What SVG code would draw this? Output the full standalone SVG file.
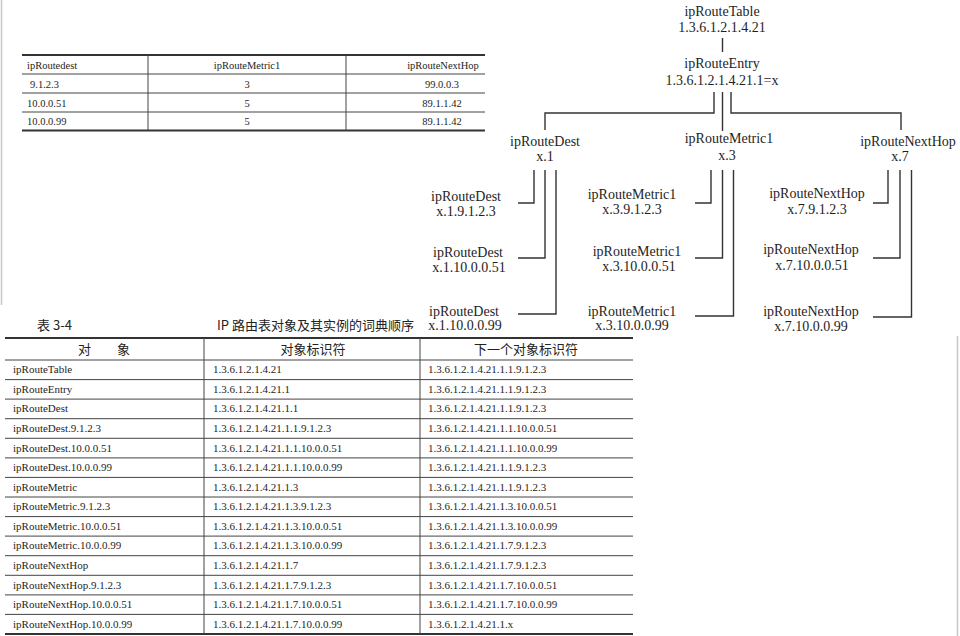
<svg xmlns="http://www.w3.org/2000/svg" width="960" height="636" viewBox="0 0 960 636">
<style>
.t{font-family:"Liberation Serif","Times New Roman",serif;font-size:14px;fill:#1e1e1e;text-anchor:middle}
.s{font-family:"Liberation Serif","Times New Roman",serif;font-size:10.5px;fill:#1e1e1e}
.b{font-family:"Liberation Serif","Times New Roman",serif;font-size:11px;fill:#1e1e1e}
.c{font-family:"Noto Sans CJK SC","Noto Sans",sans-serif;font-size:13px;fill:#222}
.m{text-anchor:middle}
.ln{stroke:#333;stroke-width:1.4;fill:none}
.r{stroke:#444;stroke-width:1;fill:none}
.r2{stroke:#333;stroke-width:1.8;fill:none}
.edge{stroke:#c8c8c8;stroke-width:1.5;fill:none}
</style>
<rect width="960" height="636" fill="#fff"/>
<path class="edge" d="M1.5 0V305M957.5 336V636"/>

<g id="route-table-sample">
<path class="r2" d="M22 55H485M22 130.5H485"/>
<path class="r" d="M22 74H485M22 93H485M22 112H485M148 55V130.5M346 55V130.5"/>
<text class="s" x="27" y="69">ipRoutedest</text>
<text class="s m" x="247" y="69">ipRouteMetric1</text>
<text class="s m" x="443" y="69">ipRouteNextHop</text>
<text class="s" x="30" y="87.5">9.1.2.3</text>
<text class="s m" x="247" y="87.5">3</text>
<text class="s m" x="442" y="87.5">99.0.0.3</text>
<text class="s" x="27" y="106.5">10.0.0.51</text>
<text class="s m" x="247" y="106.5">5</text>
<text class="s m" x="442" y="106.5">89.1.1.42</text>
<text class="s" x="27" y="125">10.0.0.99</text>
<text class="s m" x="247" y="125">5</text>
<text class="s m" x="442" y="125">89.1.1.42</text>
</g>

<g id="connectors">
<path class="ln" d="M722.5 38V52"/>
<path class="ln" d="M714 92V113H545V130"/>
<path class="ln" d="M722.5 92V131"/>
<path class="ln" d="M731 92V113H901V130"/>
<path class="ln" d="M534 170V203H518M545 170V258H518M556 170V314H518"/>
<path class="ln" d="M711 170V203H695M722.5 170V258H695M733.5 170V316H695"/>
<path class="ln" d="M888 170V203H873M900 170V258H873M911.5 170V317H873"/>
</g>

<g id="node-ipRouteTable"><text class="t" x="722" y="16">ipRouteTable</text><text class="t" x="722" y="32">1.3.6.1.2.1.4.21</text></g>
<g id="node-ipRouteEntry"><text class="t" x="722" y="68">ipRouteEntry</text><text class="t" x="722" y="85">1.3.6.1.2.1.4.21.1=x</text></g>
<g id="node-ipRouteDest"><text class="t" x="545" y="146">ipRouteDest</text><text class="t" x="545" y="161">x.1</text></g>
<g id="node-ipRouteMetric1"><text class="t" x="729" y="143">ipRouteMetric1</text><text class="t" x="727" y="160">x.3</text></g>
<g id="node-ipRouteNextHop"><text class="t" x="908" y="146">ipRouteNextHop</text><text class="t" x="900" y="161">x.7</text></g>

<g id="node-dest-1"><text class="t" x="466" y="201">ipRouteDest</text><text class="t" x="466" y="216">x.1.9.1.2.3</text></g>
<g id="node-dest-2"><text class="t" x="468" y="257">ipRouteDest</text><text class="t" x="469" y="272">x.1.10.0.0.51</text></g>
<g id="node-dest-3"><text class="t" x="464" y="316">ipRouteDest</text><text class="t" x="465" y="330">x.1.10.0.0.99</text></g>

<g id="node-metric-1"><text class="t" x="632" y="199">ipRouteMetric1</text><text class="t" x="632" y="214">x.3.9.1.2.3</text></g>
<g id="node-metric-2"><text class="t" x="637" y="256">ipRouteMetric1</text><text class="t" x="639" y="271">x.3.10.0.0.51</text></g>
<g id="node-metric-3"><text class="t" x="632" y="316">ipRouteMetric1</text><text class="t" x="632" y="330">x.3.10.0.0.99</text></g>

<g id="node-nexthop-1"><text class="t" x="817" y="198">ipRouteNextHop</text><text class="t" x="817" y="214">x.7.9.1.2.3</text></g>
<g id="node-nexthop-2"><text class="t" x="811" y="254">ipRouteNextHop</text><text class="t" x="812" y="270">x.7.10.0.0.51</text></g>
<g id="node-nexthop-3"><text class="t" x="811" y="316">ipRouteNextHop</text><text class="t" x="811" y="331">x.7.10.0.0.99</text></g>

<g id="caption">
<text class="c" x="37" y="330">表 3-4</text>
<text class="c" x="217" y="330" font-size="13.5">IP 路由表对象及其实例的词典顺序</text>
</g>

<g id="order-table">
<path class="r2" d="M5 338H633M5 634H633"/>
<path class="r" d="M5 360H633M5 379.6H633M5 399.1H633M5 418.7H633M5 438.3H633M5 457.9H633M5 477.4H633M5 497H633M5 516.6H633M5 536.1H633M5 555.7H633M5 575.3H633M5 594.9H633M5 614.4H633M204 338V634M420 338V634"/>
<text class="c m" x="104" y="354" font-size="12">对　　象</text>
<text class="c m" x="313" y="354" font-size="12">对象标识符</text>
<text class="c m" x="526" y="354" font-size="12">下一个对象标识符</text>

<text class="b" x="13" y="373.3">ipRouteTable</text><text class="b" x="213" y="373.3">1.3.6.1.2.1.4.21</text><text class="b" x="428" y="373.3">1.3.6.1.2.1.4.21.1.1.9.1.2.3</text>
<text class="b" x="13" y="392.9">ipRouteEntry</text><text class="b" x="213" y="392.9">1.3.6.1.2.1.4.21.1</text><text class="b" x="428" y="392.9">1.3.6.1.2.1.4.21.1.1.9.1.2.3</text>
<text class="b" x="13" y="412.4">ipRouteDest</text><text class="b" x="213" y="412.4">1.3.6.1.2.1.4.21.1.1</text><text class="b" x="428" y="412.4">1.3.6.1.2.1.4.21.1.1.9.1.2.3</text>
<text class="b" x="13" y="432">ipRouteDest.9.1.2.3</text><text class="b" x="213" y="432">1.3.6.1.2.1.4.21.1.1.9.1.2.3</text><text class="b" x="428" y="432">1.3.6.1.2.1.4.21.1.1.10.0.0.51</text>
<text class="b" x="13" y="451.6">ipRouteDest.10.0.0.51</text><text class="b" x="213" y="451.6">1.3.6.1.2.1.4.21.1.1.10.0.0.51</text><text class="b" x="428" y="451.6">1.3.6.1.2.1.4.21.1.1.10.0.0.99</text>
<text class="b" x="13" y="471.1">ipRouteDest.10.0.0.99</text><text class="b" x="213" y="471.1">1.3.6.1.2.1.4.21.1.1.10.0.0.99</text><text class="b" x="428" y="471.1">1.3.6.1.2.1.4.21.1.1.9.1.2.3</text>
<text class="b" x="13" y="490.7">ipRouteMetric</text><text class="b" x="213" y="490.7">1.3.6.1.2.1.4.21.1.3</text><text class="b" x="428" y="490.7">1.3.6.1.2.1.4.21.1.1.9.1.2.3</text>
<text class="b" x="13" y="510.3">ipRouteMetric.9.1.2.3</text><text class="b" x="213" y="510.3">1.3.6.1.2.1.4.21.1.3.9.1.2.3</text><text class="b" x="428" y="510.3">1.3.6.1.2.1.4.21.1.3.10.0.0.51</text>
<text class="b" x="13" y="529.9">ipRouteMetric.10.0.0.51</text><text class="b" x="213" y="529.9">1.3.6.1.2.1.4.21.1.3.10.0.0.51</text><text class="b" x="428" y="529.9">1.3.6.1.2.1.4.21.1.3.10.0.0.99</text>
<text class="b" x="13" y="549.4">ipRouteMetric.10.0.0.99</text><text class="b" x="213" y="549.4">1.3.6.1.2.1.4.21.1.3.10.0.0.99</text><text class="b" x="428" y="549.4">1.3.6.1.2.1.4.21.1.7.9.1.2.3</text>
<text class="b" x="13" y="569">ipRouteNextHop</text><text class="b" x="213" y="569">1.3.6.1.2.1.4.21.1.7</text><text class="b" x="428" y="569">1.3.6.1.2.1.4.21.1.7.9.1.2.3</text>
<text class="b" x="13" y="588.6">ipRouteNextHop.9.1.2.3</text><text class="b" x="213" y="588.6">1.3.6.1.2.1.4.21.1.7.9.1.2.3</text><text class="b" x="428" y="588.6">1.3.6.1.2.1.4.21.1.7.10.0.0.51</text>
<text class="b" x="13" y="608.2">ipRouteNextHop.10.0.0.51</text><text class="b" x="213" y="608.2">1.3.6.1.2.1.4.21.1.7.10.0.0.51</text><text class="b" x="428" y="608.2">1.3.6.1.2.1.4.21.1.7.10.0.0.99</text>
<text class="b" x="13" y="627.7">ipRouteNextHop.10.0.0.99</text><text class="b" x="213" y="627.7">1.3.6.1.2.1.4.21.1.7.10.0.0.99</text><text class="b" x="428" y="627.7">1.3.6.1.2.1.4.21.1.x</text>
</g>
</svg>
